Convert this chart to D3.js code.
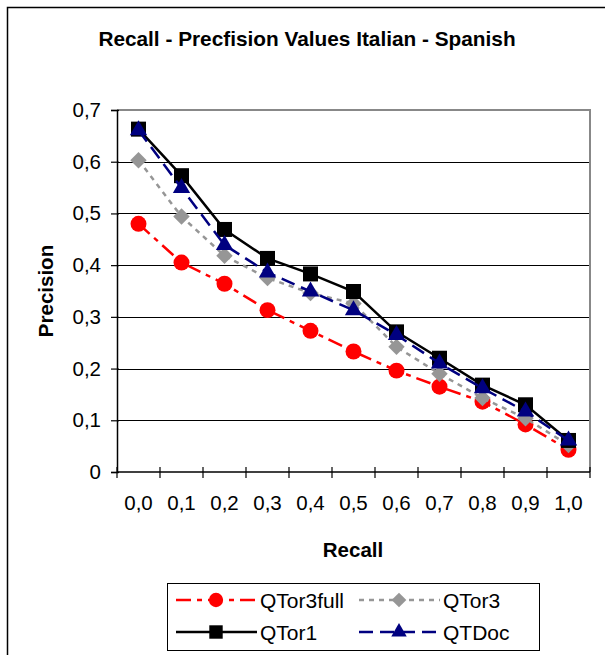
<!DOCTYPE html>
<html>
<head>
<meta charset="utf-8">
<script src="https://cdn.jsdelivr.net/npm/d3@7"></script>
<style>
  body { margin: 0; background: #fff; }
  text { font-family: "Liberation Sans", Arial, sans-serif; fill: #000; }
</style>
</head>
<body>
<div id="chart"></div>
<script>
// data
var recallLabels = ["0,0", "0,1", "0,2", "0,3", "0,4", "0,5", "0,6", "0,7", "0,8", "0,9", "1,0"];
var precisionTicks = [0, 0.1, 0.2, 0.3, 0.4, 0.5, 0.6, 0.7];
var precisionTickLabels = ["0", "0,1", "0,2", "0,3", "0,4", "0,5", "0,6", "0,7"];

var qtor3full = [0.480, 0.405, 0.364, 0.313, 0.273, 0.233, 0.196, 0.165, 0.136, 0.092, 0.043];
var qtor3 = [0.603, 0.494, 0.418, 0.375, 0.346, 0.326, 0.242, 0.190, 0.143, 0.104, 0.052];
var qtor1 = [0.663, 0.573, 0.469, 0.413, 0.383, 0.349, 0.271, 0.220, 0.168, 0.130, 0.061];
var qtdoc = [0.661, 0.549, 0.439, 0.386, 0.349, 0.313, 0.265, 0.210, 0.162, 0.117, 0.061];

var seriesNames = ["QTor3full", "QTor3", "QTor1", "QTDoc"];

function init() {
    var width = 605, height = 655;
    var plot = { left: 117, right: 590, top: 110, bottom: 472 };

    var svg = d3.select("#chart")
        .append("svg")
        .attr("width", width)
        .attr("height", height);

    // outer frame (only left and top edges are visible)
    svg.append("path")
        .attr("d", "M7.5," + height + " V7.5 H" + width)
        .attr("fill", "none")
        .attr("stroke", "#000")
        .attr("stroke-width", 1.5);

    svg.append("text")
        .attr("x", 307)
        .attr("y", 46)
        .attr("text-anchor", "middle")
        .attr("font-weight", "bold")
        .attr("font-size", "20.8px")
        .text("Recall - Precfision Values Italian - Spanish");

    var xScale = d3.scaleBand()
        .domain(recallLabels)
        .range([plot.left, plot.right])
        .padding(0);

    var yScale = d3.scaleLinear()
        .domain([0, 0.7])
        .range([plot.bottom, plot.top]);

    // gridlines
    svg.append("g")
        .selectAll("line")
        .data(precisionTicks.slice(1, -1))
        .enter()
        .append("line")
        .attr("x1", plot.left)
        .attr("x2", plot.right)
        .attr("y1", d => Math.round(yScale(d)) + 0.5)
        .attr("y2", d => Math.round(yScale(d)) + 0.5)
        .attr("stroke", "#000")
        .attr("stroke-width", 1);

    // plot border top + right (gray)
    svg.append("path")
        .attr("d", "M" + plot.left + "," + plot.top + " H" + plot.right + " V" + plot.bottom)
        .attr("fill", "none")
        .attr("stroke", "#888")
        .attr("stroke-width", 2);

    // y axis
    var leftAxis = d3.axisLeft(yScale)
        .tickValues(precisionTicks)
        .tickFormat((d, i) => precisionTickLabels[i])
        .tickSize(6)
        .tickPadding(10);

    var yAxis = svg.append("g")
        .attr("transform", "translate(" + plot.left + ",0)")
        .call(leftAxis);
    yAxis.select(".domain").attr("stroke-width", 1.5);
    yAxis.selectAll(".tick line").attr("stroke-width", 1.2).attr("x2", -6).attr("x1", 2);
    yAxis.selectAll("text")
        .attr("font-size", "20.5px")
        .attr("font-family", "Liberation Sans, Arial, sans-serif")
        .attr("fill", "#000");

    // x axis: ticks between categories, labels at centres
    var xAxis = svg.append("g");
    xAxis.append("line")
        .attr("x1", plot.left)
        .attr("x2", plot.right)
        .attr("y1", plot.bottom)
        .attr("y2", plot.bottom)
        .attr("stroke", "#000")
        .attr("stroke-width", 1.5);

    var boundaries = recallLabels.map(d => xScale(d)).concat([plot.right]);
    xAxis.selectAll(".xtick")
        .data(boundaries)
        .enter()
        .append("line")
        .attr("class", "xtick")
        .attr("x1", d => d)
        .attr("x2", d => d)
        .attr("y1", plot.bottom - 5)
        .attr("y2", plot.bottom + 6)
        .attr("stroke", "#000")
        .attr("stroke-width", 1.2);

    xAxis.selectAll(".xlabel")
        .data(recallLabels)
        .enter()
        .append("text")
        .attr("class", "xlabel")
        .attr("x", d => xScale(d) + xScale.bandwidth() / 2)
        .attr("y", 510)
        .attr("text-anchor", "middle")
        .attr("font-size", "20.5px")
        .text(d => d);

    svg.append("text")
        .attr("x", 353)
        .attr("y", 557)
        .attr("text-anchor", "middle")
        .attr("font-weight", "bold")
        .attr("font-size", "20.5px")
        .text("Recall");

    svg.append("text")
        .attr("transform", "translate(53," + ((plot.top + plot.bottom) / 2) + ") rotate(-90)")
        .attr("text-anchor", "middle")
        .attr("font-weight", "bold")
        .attr("font-size", "20.5px")
        .text("Precision");

    var styles = [
        { values: qtor3full, color: "#ff0000", dash: "15,6,5,6", symbol: d3.symbolCircle, size: 200, rotate: 0 },
        { values: qtor3, color: "#969696", dash: "5,5", symbol: d3.symbolSquare, size: 135, rotate: 45 },
        { values: qtor1, color: "#000000", dash: null, symbol: d3.symbolSquare, size: 225, rotate: 0 },
        { values: qtdoc, color: "#000080", dash: "14,7", symbol: d3.symbolTriangle, size: 130, rotate: 0 }
    ];

    var line = d3.line()
        .x((d, i) => xScale(recallLabels[i]) + xScale.bandwidth() / 2)
        .y(d => yScale(d));

    styles.forEach(function(s) {
        var g = svg.append("g");
        g.append("path")
            .datum(s.values)
            .attr("d", line)
            .attr("fill", "none")
            .attr("stroke", s.color)
            .attr("stroke-width", 2.5)
            .attr("stroke-dasharray", s.dash);

        g.selectAll("path.mark")
            .data(s.values)
            .enter()
            .append("path")
            .attr("class", "mark")
            .attr("d", d3.symbol().type(s.symbol).size(s.size))
            .attr("transform", (d, i) => "translate(" + (xScale(recallLabels[i]) + xScale.bandwidth() / 2) + "," + yScale(d) + ") rotate(" + s.rotate + ")")
            .attr("fill", s.color);
    });

    // legend
    var legend = svg.append("g");
    legend.append("rect")
        .attr("x", 167.5)
        .attr("y", 583.5)
        .attr("width", 372)
        .attr("height", 67)
        .attr("fill", "#fff")
        .attr("stroke", "#000")
        .attr("stroke-width", 1);

    var legendPos = [
        { x: 176, y: 600 },
        { x: 359, y: 600 },
        { x: 176, y: 632 },
        { x: 359, y: 632 }
    ];

    styles.forEach(function(s, i) {
        var p = legendPos[i];
        var item = legend.append("g");
        item.append("line")
            .attr("x1", p.x)
            .attr("x2", p.x + 81)
            .attr("y1", p.y)
            .attr("y2", p.y)
            .attr("stroke", s.color)
            .attr("stroke-width", 2.5)
            .attr("stroke-dasharray", s.dash);
        item.append("path")
            .attr("d", d3.symbol().type(s.symbol).size(s.size * 0.8))
            .attr("transform", "translate(" + (p.x + 40) + "," + p.y + ") rotate(" + s.rotate + ")")
            .attr("fill", s.color);
        item.append("text")
            .attr("x", p.x + 84)
            .attr("y", p.y + 7.5)
            .attr("font-size", "21px")
            .text(seriesNames[i]);
    });
}
window.addEventListener('load', init, false);
</script>
</body>
</html>
